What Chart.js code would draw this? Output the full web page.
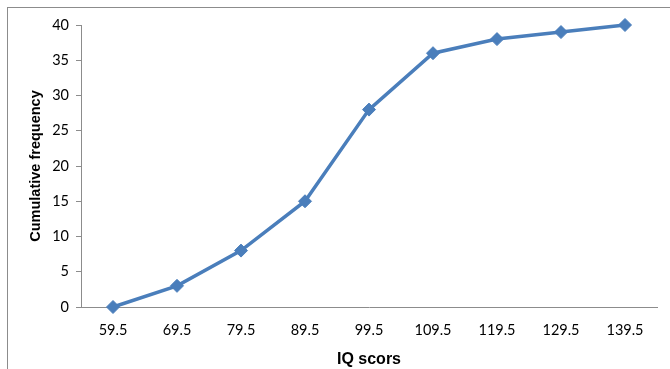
<!DOCTYPE html>
<html>
<head>
<meta charset="utf-8">
<script src="https://cdn.jsdelivr.net/npm/chart.js@4/dist/chart.umd.min.js"></script>
<style>
  html, body { margin: 0; padding: 0; background: #fff; }
  #wrap { position: relative; width: 670px; height: 369px; }
  #frame { position: absolute; left: 7px; top: 7px; width: 700px; height: 400px; border: 1px solid #8c8c8c; box-sizing: border-box; pointer-events: none; }
  canvas { position: absolute; left: 0; top: 0; }
</style>
</head>
<body>
<div id="wrap">
  <canvas id="c" width="670" height="369"></canvas>
  <div id="frame"></div>
</div>
<script>
// Upper class boundaries of the IQ score classes
const categories = ['59.5', '69.5', '79.5', '89.5', '99.5', '109.5', '119.5', '129.5', '139.5'];
// Running total of students up to each boundary
const cumulativeFrequency = [0, 3, 8, 15, 28, 36, 38, 39, 40];
const yTicks = [0, 5, 10, 15, 20, 25, 30, 35, 40];

const lineColor = '#4a7ebb';
const tickFont = { family: 'Lato, "Open Sans", sans-serif', size: 14.5 };

new Chart(document.getElementById('c'), {
  type: 'line',
  data: {
    labels: categories,
    datasets: [{
      data: cumulativeFrequency,
      borderColor: lineColor,
      backgroundColor: lineColor,
      borderWidth: 3.5,
      pointStyle: 'rectRot',
      pointRadius: 6.5,
      pointHoverRadius: 6.5,
      pointBorderWidth: 1,
      pointBorderColor: lineColor,
      tension: 0,
      fill: false,
      clip: false
    }]
  },
  options: {
    responsive: false,
    animation: false,
    devicePixelRatio: 1,
    layout: { padding: { left: 27, right: 13, top: 25, bottom: 0 } },
    plugins: { legend: { display: false }, tooltip: { enabled: false } },
    scales: {
      x: {
        type: 'category',
        offset: true,
        grid: { display: false },
        border: { display: true, color: '#8c8c8c', width: 1 },
        ticks: { color: '#000', font: tickFont, padding: 7, maxRotation: 0 },
        title: {
          display: true,
          text: 'IQ scors',
          color: '#000',
          padding: { top: 0, bottom: 0 },
          font: { family: '"Liberation Sans", Arial, sans-serif', size: 16, weight: 'bold' }
        },
        afterFit(scale) { scale.height = 62; }
      },
      y: {
        min: 0,
        max: 40,
        afterBuildTicks(scale) { scale.ticks = yTicks.map(v => ({ value: v })); },
        grid: { drawOnChartArea: false, drawTicks: true, tickLength: 5, color: '#8c8c8c' },
        border: { display: true, color: '#8c8c8c', width: 1 },
        ticks: { color: '#000', font: tickFont, padding: 7 },
        title: {
          display: true,
          text: 'Cumulative frequency',
          color: '#000',
          padding: { top: 0, bottom: 0 },
          font: { family: '"Liberation Sans", Arial, sans-serif', size: 14.5, weight: 'bold' }
        },
        afterFit(scale) { scale.width = 54; }
      }
    }
  }
});
</script>
</body>
</html>
